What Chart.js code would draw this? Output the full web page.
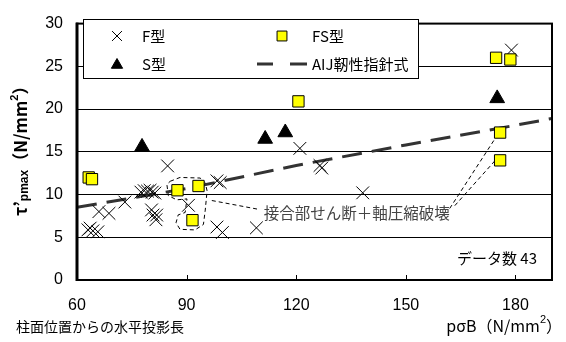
<!DOCTYPE html>
<html>
<head>
<meta charset="utf-8">
<script src="https://cdn.jsdelivr.net/npm/chart.js@4/dist/chart.umd.min.js"></script>
<style>
html, body { margin: 0; padding: 0; background: #fff; }
canvas { display: block; }
</style>
</head>
<body>
<canvas id="c" width="566" height="342"></canvas>
<script>
// F型
const fX = [84.8, 73.1, 68.75, 66.0, 80.4, 80.8, 81.8, 81.6, 63.0, 63.6, 64.35, 65.7, 90.5, 98.3, 99.2,
            98.3, 99.8, 109.1, 121.0, 126.5, 127.0, 138.2, 178.9, 77.5, 78.4, 79.3, 80.0, 80.6, 81.3];
const fY = [13.35, 9.12, 7.8, 8.0, 8.2, 7.6, 7.6, 7.05, 5.87, 6.07, 5.75, 5.64, 8.74, 11.6, 11.4,
            6.2, 5.56, 6.1, 15.4, 13.4, 13.1, 10.2, 26.9, 10.28, 10.45, 10.4, 10.5, 10.28, 10.17];
// FS型
const fsX = [63.2, 64.1, 87.5, 93.25, 91.6, 120.6, 174.7, 178.6, 175.8, 175.8];
const fsY = [12.0, 11.8, 10.5, 11.0, 7.0, 20.9, 26.0, 25.8, 17.25, 14.0];
// S型
const sX = [77.8, 111.5, 117.0, 175.0];
const sY = [15.57, 16.5, 17.26, 21.25];
// AIJ靭性指針式
const aijX = [60, 90, 120, 150, 180, 190];
const aijY = [8.5, 10.7, 13.4, 15.8, 18.1, 18.9];

const xTicks = [60, 90, 120, 150, 180];
const yTicks = [0, 5, 10, 15, 20, 25, 30];

// 注記（データ座標）
const outline = [[85.5, 11.55], [88.2, 12.0], [93.7, 11.93], [95.1, 11.37], [95.6, 10.43], [95.1, 8.18],
                 [94.6, 6.5], [92.3, 5.86], [88.2, 5.93], [87.1, 6.69], [87.7, 7.62], [89.6, 7.9],
                 [90.1, 9.49], [87.3, 9.38], [85.0, 9.87], [84.6, 11.18]];
const leaders = [[[96.9, 9.3], [109.3, 8.3]], [[162.0, 8.37], [174.5, 16.6]], [[163.4, 8.7], [174.9, 14.2]]];
const noteText = '接合部せん断＋軸圧縮破壊';
const notePos = [111.1, 7.8];

const pts = (xs, ys) => xs.map((v, i) => ({ x: v, y: ys[i] }));
const NUM = '"Liberation Sans", Arial, "Noto Sans CJK JP", sans-serif';
const JP = '"Noto Sans CJK JP", "Liberation Sans", sans-serif';

const decor = {
    id: 'decor',
    beforeDatasetsDraw(chart) {
        const { ctx, scales: { x, y } } = chart;
        ctx.save();
        ctx.setLineDash([4, 3]);
        ctx.lineWidth = 1;
        ctx.strokeStyle = '#000';
        ctx.beginPath();
        outline.forEach(([vx, vy], i) => {
            const px = x.getPixelForValue(vx), py = y.getPixelForValue(vy);
            if (i) ctx.lineTo(px, py); else ctx.moveTo(px, py);
        });
        ctx.closePath();
        ctx.stroke();
        leaders.forEach(([p, q]) => {
            ctx.beginPath();
            ctx.moveTo(x.getPixelForValue(p[0]), y.getPixelForValue(p[1]));
            ctx.lineTo(x.getPixelForValue(q[0]), y.getPixelForValue(q[1]));
            ctx.stroke();
        });
        ctx.setLineDash([]);
        ctx.fillStyle = '#444';
        ctx.font = '15.5px ' + JP;
        ctx.textBaseline = 'middle';
        ctx.fillText(noteText, x.getPixelForValue(notePos[0]), y.getPixelForValue(notePos[1]));
        ctx.restore();
    },
    afterDatasetsDraw(chart) {
        const { ctx, chartArea: a, scales: { x } } = chart;
        ctx.save();
        // 枠
        ctx.strokeStyle = '#000';
        ctx.lineWidth = 2;
        ctx.strokeRect(a.left, a.top, a.right - a.left, a.bottom - a.top);
        ctx.fillStyle = '#000';
        ctx.fillRect(a.left - 1.5, a.top - 1, 3, a.bottom - a.top + 2);
        // 目盛り
        ctx.lineWidth = 1;
        x.ticks.forEach(t => {
            if (t.value <= x.min) return;
            const px = Math.round(x.getPixelForValue(t.value)) + 0.5;
            ctx.beginPath();
            ctx.moveTo(px, a.bottom);
            ctx.lineTo(px, a.bottom - 5);
            ctx.stroke();
        });
        // 凡例
        ctx.fillStyle = '#fff';
        ctx.fillRect(83, 19, 335, 59);
        ctx.strokeRect(83.5, 19.5, 335, 59);
        const H = Chart.helpers;
        ctx.strokeStyle = '#000';
        ctx.fillStyle = '#000';
        H.drawPoint(ctx, { pointStyle: 'crossRot', radius: 7, borderWidth: 1 }, 117, 36);
        H.drawPoint(ctx, { pointStyle: 'triangle', radius: 6.5, borderWidth: 1 }, 117, 65);
        ctx.fillStyle = '#ffff00';
        H.drawPoint(ctx, { pointStyle: 'rect', radius: 7, borderWidth: 1 }, 282, 36);
        ctx.strokeStyle = '#333';
        ctx.lineWidth = 3;
        ctx.beginPath();
        ctx.moveTo(257, 64); ctx.lineTo(273, 64);
        ctx.moveTo(290, 64); ctx.lineTo(307, 64);
        ctx.stroke();
        ctx.fillStyle = '#000';
        ctx.font = '15px ' + JP;
        ctx.textBaseline = 'middle';
        ctx.fillText('F型', 142, 36);
        ctx.fillText('S型', 142, 64);
        ctx.fillText('FS型', 312, 36);
        ctx.fillText('AIJ靭性指針式', 312, 64);
        // データ数
        ctx.textAlign = 'right';
        ctx.fillText('データ数 43', 537, 258);
        // x軸タイトル
        ctx.textAlign = 'left';
        ctx.font = '14px ' + JP;
        ctx.fillText('柱面位置からの水平投影長', 16, 327);
        ctx.font = '16px ' + JP;
        const s1 = 'pσB（N/mm', s3 = '）';
        const w1 = ctx.measureText(s1).width, w3 = ctx.measureText(s3).width;
        ctx.font = '11px ' + NUM;
        const w2 = ctx.measureText('2').width;
        let sx = 562 - w1 - w2 - w3;
        ctx.font = '16px ' + JP;
        ctx.fillText(s1, sx, 326);
        ctx.font = '11px ' + NUM;
        ctx.fillText('2', sx + w1, 320);
        ctx.font = '16px ' + JP;
        ctx.fillText(s3, sx + w1 + w2, 326);
        // y軸タイトル
        ctx.translate(21, 216);
        ctx.rotate(-Math.PI / 2);
        let cx = 0;
        const part = (txt, font, dy) => {
            ctx.font = font;
            ctx.fillText(txt, cx, dy);
            cx += ctx.measureText(txt).width;
        };
        part('τ’', 'bold 17px ' + JP, 0);
        part('pmax', 'bold 12px ' + NUM, 4);
        part('（N/mm', 'bold 17px ' + JP, 0);
        part('2', 'bold 11px ' + NUM, -6);
        part('）', 'bold 17px ' + JP, 0);
        ctx.restore();
    }
};

new Chart(document.getElementById('c'), {
    type: 'scatter',
    data: {
        datasets: [
            { label: 'FS型', data: pts(fsX, fsY), pointStyle: 'rect', radius: 8,
              backgroundColor: '#ffff00', borderColor: '#000', borderWidth: 1 },
            { label: 'S型', data: pts(sX, sY), pointStyle: 'triangle', radius: 8.5,
              backgroundColor: '#000', borderColor: '#000', borderWidth: 1 },
            { label: 'F型', data: pts(fX, fY), pointStyle: 'crossRot', radius: 9,
              borderColor: '#000', borderWidth: 1 },
            { label: 'AIJ靭性指針式', data: pts(aijX, aijY), showLine: true, pointRadius: 0,
              borderColor: '#333', borderWidth: 3, borderDash: [20, 10], fill: false }
        ]
    },
    options: {
        responsive: false,
        animation: false,
        devicePixelRatio: 1,
        layout: { padding: { top: 12, right: 14, left: 0, bottom: 0 } },
        plugins: { legend: { display: false }, tooltip: { enabled: false } },
        scales: {
            x: {
                type: 'linear', min: 60, max: 190,
                afterBuildTicks: s => { s.ticks = xTicks.map(v => ({ value: v })); },
                afterFit: s => { s.height = 62; },
                grid: { display: false, drawTicks: false },
                border: { display: false },
                ticks: { color: '#000', padding: 16, font: { family: NUM, size: 16 } }
            },
            y: {
                min: 0, max: 30,
                afterBuildTicks: s => { s.ticks = yTicks.map(v => ({ value: v })); },
                afterFit: s => { s.width = 77; },
                grid: { color: '#000', lineWidth: 1, drawTicks: false },
                border: { display: false },
                ticks: { color: '#000', padding: 14, font: { family: NUM, size: 16 } }
            }
        }
    },
    plugins: [decor]
});
</script>
</body>
</html>
